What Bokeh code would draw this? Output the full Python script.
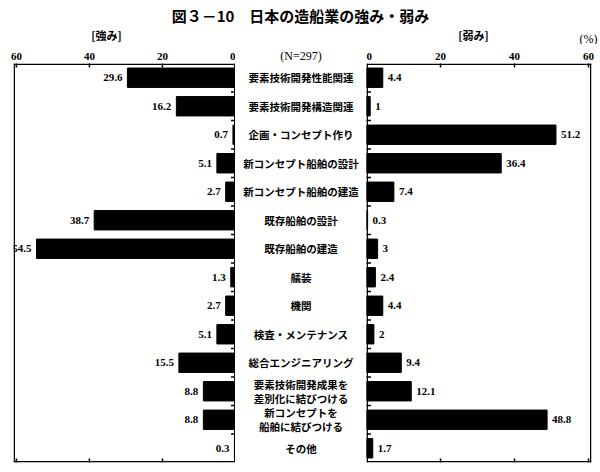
from bokeh.plotting import figure
from bokeh.models import Range1d, FactorRange, LinearAxis, FixedTicker
from bokeh.layouts import column, row
from bokeh.embed import file_html
from bokeh.resources import INLINE
from bokeh.core.properties import value

# ---------------- data ----------------
title_text = "図３－10　日本の造船業の強み・弱み"
left_header = "[強み]"
right_header = "[弱み]"
n_text = "(N=297)"
unit_text = "(%)"

categories = [
    "要素技術開発性能関連",
    "要素技術開発構造関連",
    "企画・コンセプト作り",
    "新コンセプト船舶の設計",
    "新コンセプト船舶の建造",
    "既存船舶の設計",
    "既存船舶の建造",
    "艤装",
    "機関",
    "検査・メンテナンス",
    "総合エンジニアリング",
    "要素技術開発成果を\n差別化に結びつける",
    "新コンセプトを\n船舶に結びつける",
    "その他",
]
strength = [29.6, 16.2, 0.7, 5.1, 2.7, 38.7, 54.5, 1.3, 2.7, 5.1, 15.5, 8.8, 8.8, 0.3]
weakness = [4.4, 1, 51.2, 36.4, 7.4, 0.3, 3, 2.4, 4.4, 2, 9.4, 12.1, 48.8, 1.7]
x_ticks = [0, 20, 40, 60]
x_max = 60.8

strength_labels = [f"{v:g}" for v in strength]
weakness_labels = [f"{v:g}" for v in weakness]

# ---------------- layout constants ----------------
TOP_H = 44
ROW_H = 426
BORDER_TOP = 19
BORDER_BOTTOM = 8
SERIF = "Times"
NUM_FONT = value(SERIF)
JP_FONT = value("Noto Sans CJK JP")
n_cat = len(categories)
EDGE_X = 0.4     # frame line thickness in value units (~1.5px)
EDGE_Y = 0.055   # frame line thickness in category units (~1.5px)

factors = categories[::-1]
inner_ticks = [t for t in x_ticks if 0 < t < x_max]
boundaries = list(range(1, n_cat))


def base_fig(width, x_range, **kw):
    p = figure(width=width, height=ROW_H, x_range=x_range,
               y_range=FactorRange(factors=factors, range_padding=0),
               output_backend="svg", toolbar_location=None,
               x_axis_location=None, y_axis_location=None,
               min_border_top=BORDER_TOP, min_border_bottom=BORDER_BOTTOM, **kw)
    p.grid.visible = False
    p.outline_line_color = None
    p.background_fill_color = "white"
    p.border_fill_color = "white"
    return p


def panel_frame(p):
    # tick labels from a top axis
    ax = LinearAxis(ticker=FixedTicker(ticks=x_ticks))
    ax.axis_line_color = None
    ax.major_tick_line_color = None
    ax.minor_tick_line_color = None
    ax.major_tick_out = 0
    ax.major_tick_in = 0
    ax.major_label_text_font = SERIF
    ax.major_label_text_font_size = "11px"
    ax.major_label_text_font_style = "bold"
    ax.major_label_text_color = "black"
    ax.major_label_standoff = 4
    p.add_layout(ax, "above")
    edge_style = dict(fill_color="black", line_color=None)
    # frame box drawn as thin filled bands just inside the frame
    p.quad(left=[0, 0], right=[x_max, x_max],
           bottom=[0, n_cat - EDGE_Y], top=[EDGE_Y, n_cat], **edge_style)
    p.quad(left=[0, x_max - EDGE_X], right=[EDGE_X, x_max],
           bottom=[0, 0], top=[n_cat, n_cat], **edge_style)
    # value ticks on the top and bottom edges
    p.rect(x=inner_ticks * 2, y=[0] * len(inner_ticks) + [n_cat] * len(inner_ticks),
           width=1.5, height=8, width_units="screen", height_units="screen",
           **edge_style)
    # category boundary ticks on the zero edge
    p.rect(x=[0] * len(boundaries), y=boundaries, width=9, height=1.5,
           width_units="screen", height_units="screen", **edge_style)


# ---------------- left panel (strengths) ----------------
left = base_fig(235, Range1d(x_max, 0), min_border_left=13, min_border_right=0)
left.hbar(y=categories, left=0, right=strength, height=0.68,
          fill_color="black", line_color="black")
left.text(x=strength, y=categories, text=strength_labels, x_offset=-5,
          text_align="right", text_baseline="middle",
          text_font=NUM_FONT, text_font_size="11px", text_font_style="bold",
          text_color="black")
panel_frame(left)

# ---------------- middle (category labels) ----------------
mid = base_fig(131, Range1d(0, 1), min_border_left=0, min_border_right=0)
mid.text(x=[0.5] * n_cat, y=categories, text=categories,
         text_align="center", text_baseline="middle",
         text_font=JP_FONT, text_font_size="10.5px", text_font_style="bold",
         text_color="black", text_line_height=0.95)
mid.title.text = n_text
mid.title.align = "center"
mid.title.text_font = SERIF
mid.title.text_font_size = "12px"
mid.title.text_font_style = "normal"
mid.title.text_color = "black"
mid.title.standoff = 2

# ---------------- right panel (weaknesses) ----------------
right = base_fig(232, Range1d(0, x_max), min_border_left=0, min_border_right=7)
right.hbar(y=categories, left=0, right=weakness, height=0.68,
           fill_color="black", line_color="black")
right.text(x=weakness, y=categories, text=weakness_labels, x_offset=5,
           text_align="left", text_baseline="middle",
           text_font=NUM_FONT, text_font_size="11px", text_font_style="bold",
           text_color="black")
panel_frame(right)

# ---------------- header ----------------
top = figure(width=598, height=TOP_H, x_range=Range1d(0, 598), y_range=Range1d(TOP_H, 0),
             output_backend="svg", toolbar_location=None,
             x_axis_location=None, y_axis_location=None,
             min_border=0)
top.grid.visible = False
top.outline_line_color = None
top.text(x=[300], y=[15], text=[title_text], text_align="center", text_baseline="middle",
         text_font=JP_FONT, text_font_size="15px", text_font_style="bold", text_color="black")
top.text(x=[106, 473], y=[34, 34], text=[left_header, right_header],
         text_align="center", text_baseline="middle",
         text_font=JP_FONT, text_font_size="11px", text_font_style="bold", text_color="black")
top.text(x=[597], y=[38], text=[unit_text], text_align="right", text_baseline="middle",
         text_font=NUM_FONT, text_font_size="12px", text_color="black")

layout = column(top, row(left, mid, right))

open("out.html", "w").write(file_html(layout, INLINE))
